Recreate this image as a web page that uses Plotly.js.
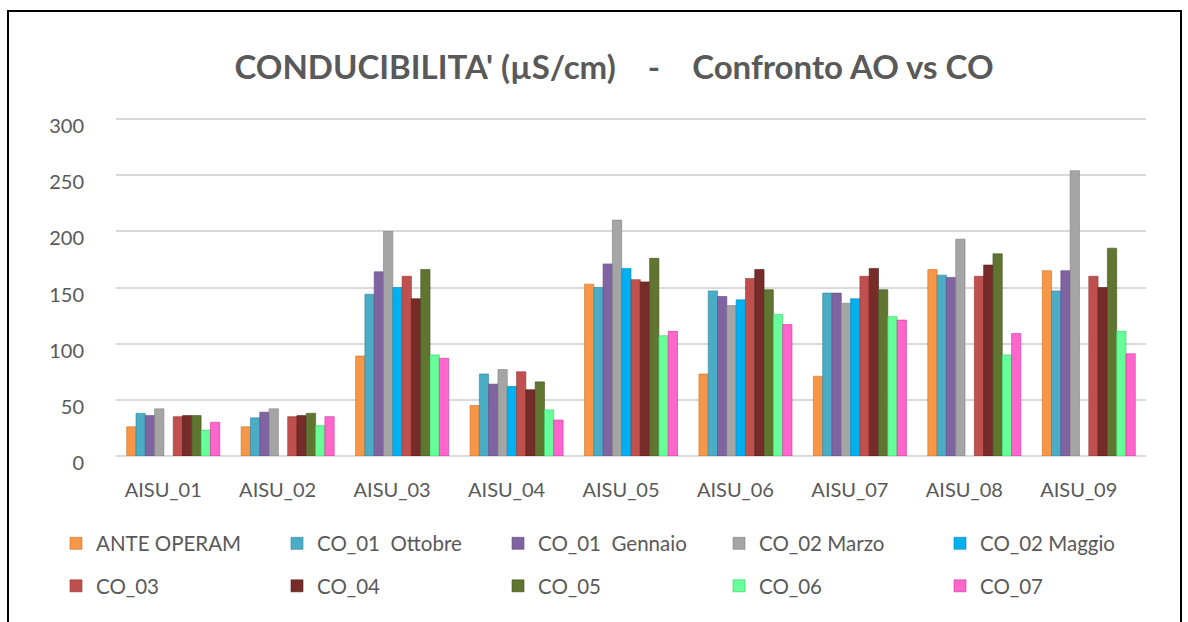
<!DOCTYPE html>
<html>
<head>
<meta charset="utf-8">
<script src="https://cdn.plot.ly/plotly-3.0.1.min.js"></script>
<style>
  html, body { margin: 0; padding: 0; background: #ffffff; }
  #chart { width: 1188px; height: 622px; }
</style>
</head>
<body>
<div id="chart"></div>
<script>
// ---------- DATA ----------
const categories = ['AISU_01', 'AISU_02', 'AISU_03', 'AISU_04', 'AISU_05', 'AISU_06', 'AISU_07', 'AISU_08', 'AISU_09'];

const seriesNames = ['ANTE OPERAM', 'CO_01  Ottobre', 'CO_01  Gennaio', 'CO_02 Marzo', 'CO_02 Maggio',
                     'CO_03', 'CO_04', 'CO_05', 'CO_06', 'CO_07'];

const anteOperam   = [26, 26, 89, 45, 153, 73, 71, 166, 165];
const co01Ottobre  = [38, 34, 144, 73, 150, 147, 145, 161, 147];
const co01Gennaio  = [36, 39, 164, 64, 171, 142, 145, 159, 165];
const co02Marzo    = [42, 42, 200, 77, 210, 134, 136, 193, 254];
const co02Maggio   = [null, null, 150, 62, 167, 139, 140, null, null];
const co03         = [35, 35, 160, 75, 157, 158, 160, 160, 160];
const co04         = [36, 36, 140, 59, 155, 166, 167, 170, 150];
const co05         = [36, 38, 166, 66, 176, 148, 148, 180, 185];
const co06         = [23, 27, 90, 41, 107, 126, 124, 90, 111];
const co07         = [30, 35, 87, 32, 111, 117, 121, 109, 91];

const seriesValues = [anteOperam, co01Ottobre, co01Gennaio, co02Marzo, co02Maggio,
                      co03, co04, co05, co06, co07];

const seriesColors = ['#F79646', '#4BACC6', '#8064A2', '#A5A5A5', '#00B0F0',
                      '#C0504D', '#772C2A', '#5F7530', '#66FF99', '#FF66CC'];
const seriesLines  = ['#C9732A', '#31859C', '#5F4A80', '#7F7F7F', '#0088BB',
                      '#953735', '#4F1C1B', '#435421', '#33CC66', '#CC3399'];

const yTicks = [0, 50, 100, 150, 200, 250, 300];

// ---------- CHART ----------
const W = 1188, H = 622;
const M = { l: 116, r: 42, t: 118, b: 166 };
const PW = W - M.l - M.r, PH = H - M.t - M.b;
const FONT = 'Lato, "Open Sans", sans-serif';
const TXT = '#595959';

const traces = seriesNames.map((name, i) => ({
  type: 'bar',
  name: name,
  x: categories,
  y: seriesValues[i],
  marker: { color: seriesColors[i], line: { color: seriesLines[i], width: 0.6 } },
  legend: i < 5 ? 'legend' : 'legend2',
  hoverinfo: 'x+y+name'
}));

function px2paperX(px) { return (px - M.l) / PW; }
function px2paperY(py) { return (H - M.b - py) / PH; }

const legendCommon = {
  orientation: 'h',
  xref: 'paper', yref: 'paper',
  xanchor: 'left', yanchor: 'top',
  x: px2paperX(56),
  entrywidth: 176, entrywidthmode: 'pixels',
  font: { family: FONT, size: 20.5, color: TXT },
  bgcolor: 'rgba(0,0,0,0)', borderwidth: 0,
  itemclick: false, itemdoubleclick: false
};

const layout = {
  width: W, height: H,
  margin: { l: M.l, r: M.r, t: M.t, b: M.b, pad: 0 },
  paper_bgcolor: '#ffffff', plot_bgcolor: '#ffffff',
  font: { family: FONT, color: TXT },
  title: {
    text: "CONDUCIBILITA' (µS/cm)\u00A0\u00A0\u00A0\u00A0-\u00A0\u00A0\u00A0\u00A0Confronto AO vs CO",
    font: { family: FONT, size: 33, color: TXT, weight: 'bold' },
    xref: 'container', yref: 'container',
    x: 614 / W, xanchor: 'center',
    y: 1 - 67 / H, yanchor: 'middle'
  },
  barmode: 'group',
  bargap: 0.187,
  bargroupgap: 0,
  xaxis: {
    type: 'category',
    showgrid: false, showline: false, zeroline: false,
    ticks: '',
    tickfont: { family: FONT, size: 20, color: TXT },
    ticklabelshift: -10,
    ticklabelstandoff: 20,
    fixedrange: true
  },
  yaxis: {
    range: [0, 300.9],
    tickvals: yTicks,
    ticktext: yTicks.map(String),
    showgrid: true, gridcolor: '#D9D9D9', gridwidth: 2,
    zeroline: true, zerolinecolor: '#D9D9D9', zerolinewidth: 2,
    showline: false, ticks: '',
    tickfont: { family: FONT, size: 20, color: TXT },
    ticklabelshift: 7,
    ticklabelstandoff: 31,
    fixedrange: true
  },
  legend: Object.assign({}, legendCommon, { y: px2paperY(523.5) }),
  legend2: Object.assign({}, legendCommon, { y: px2paperY(566) }),
  shapes: [{
    type: 'rect', xref: 'paper', yref: 'paper',
    x0: px2paperX(8), x1: px2paperX(1181),
    y0: px2paperY(660), y1: px2paperY(11),
    line: { color: '#000000', width: 2 },
    fillcolor: 'rgba(0,0,0,0)',
    layer: 'above'
  }],
  showlegend: true
};

Plotly.newPlot('chart', traces, layout, { displayModeBar: false, staticPlot: false });
</script>
</body>
</html>
